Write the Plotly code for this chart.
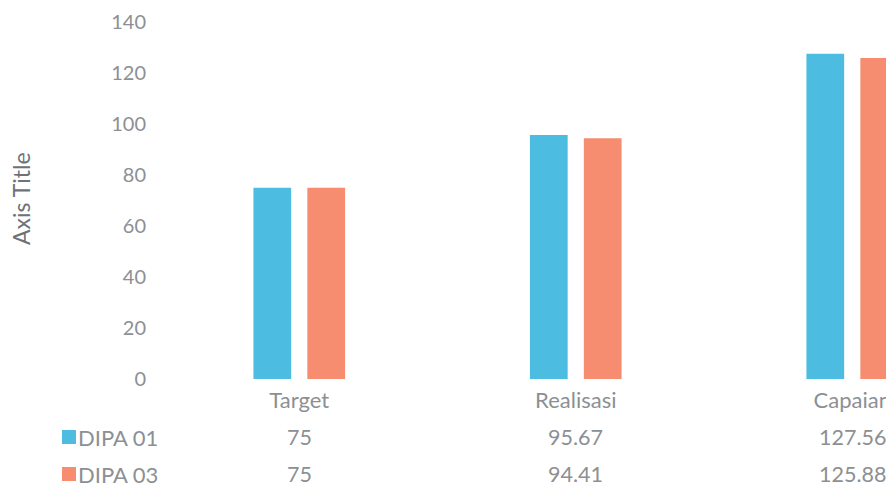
import plotly.graph_objects as go

categories = ["Target", "Realisasi", "Capaian"]
series_names = ["DIPA 01", "DIPA 03"]
dipa01 = [75, 95.67, 127.56]
dipa03 = [75, 94.41, 125.88]
value_labels_01 = ["75", "95.67", "127.56"]
value_labels_03 = ["75", "94.41", "125.88"]
y_ticks = [0, 20, 40, 60, 80, 100, 120, 140]

OFF = 8  # page body margin
W, H = 894 - OFF, 488 - OFF
PLOT_LEFT, PLOT_TOP, PLOT_BOTTOM = 161, 22, 379  # page pixels
L = PLOT_LEFT - OFF
T = PLOT_TOP - OFF
B = H - (PLOT_BOTTOM - OFF)
R = 0
PW, PH = W - L - R, H - T - B

def px(x):
    return (x - PLOT_LEFT) / PW

def py(y):
    return (PLOT_BOTTOM - y) / PH

blue = "#4CBDE0"
orange = "#F68D70"
gray = "#8C9094"
font = "Lato, Open Sans, sans-serif"

fig = go.Figure()
fig.add_trace(go.Bar(x=categories, y=dipa01, name=series_names[0],
                     marker=dict(color=blue, line=dict(width=0))))
fig.add_trace(go.Bar(x=categories, y=dipa03, name=series_names[1],
                     marker=dict(color=orange, line=dict(width=0))))

units = PW / 276.5
fig.update_layout(
    width=W, height=H,
    margin=dict(l=L, r=R, t=T, b=B),
    paper_bgcolor="white", plot_bgcolor="white",
    showlegend=False,
    barmode="group", bargap=0.61, bargroupgap=0.3,
    font=dict(family=font, color=gray, size=17),
    xaxis=dict(range=[-0.5, -0.5 + units], showgrid=False, zeroline=False,
               showline=False, ticks="", ticklabelstandoff=6,
               tickfont=dict(size=22, color=gray)),
    yaxis=dict(range=[0, 140], tickvals=y_ticks, showgrid=False,
               zeroline=False, showline=False, ticks="",
               ticklabelstandoff=14, tickfont=dict(size=20, color=gray)),
)

annotations = [dict(text="Axis Title", textangle=-90, xref="paper", yref="paper",
                    x=px(21), y=py(199), showarrow=False,
                    font=dict(size=23, color="#6E7276"), xanchor="center", yanchor="middle")]
for vals, row_y in [(value_labels_01, 437), (value_labels_03, 474)]:
    for c, v in zip(categories, vals):
        annotations.append(dict(text=v, x=c, xref="x", yref="paper", y=py(row_y),
                                showarrow=False, xanchor="center", yanchor="middle",
                                font=dict(size=21.5, color=gray)))
shapes = []
for name, col, row_y in [(series_names[0], blue, 437), (series_names[1], orange, 474)]:
    annotations.append(dict(text=name, xref="paper", yref="paper", x=px(76), y=py(row_y),
                            showarrow=False, xanchor="left", yanchor="middle",
                            font=dict(size=22, color=gray)))
    shapes.append(dict(type="rect", xref="paper", yref="paper",
                       x0=px(62), x1=px(76), y0=py(row_y + 7), y1=py(row_y - 7),
                       fillcolor=col, line=dict(width=0)))
fig.update_layout(annotations=annotations, shapes=shapes)

fig.write_html("out.html")
